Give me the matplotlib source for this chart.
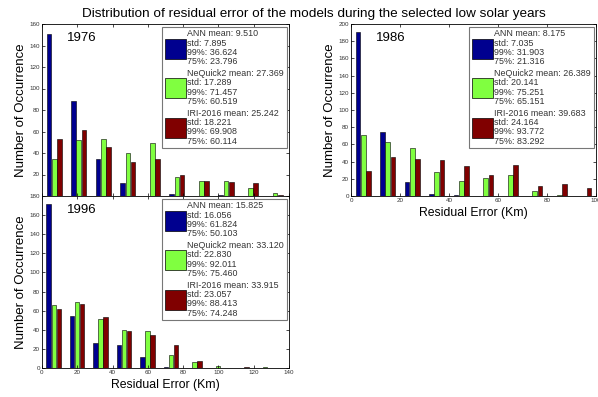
import numpy as np
import matplotlib
matplotlib.use("Agg")
from matplotlib import pyplot as plt
from matplotlib.patches import Patch

plt.rcParams['font.family'] = ['Liberation Sans', 'DejaVu Sans']

models = ["ANN", "NeQuick2", "IRI-2016"]
colors = ["#00008F", "#80FF40", "#800000"]

# 1976 (bin width ~13.9 km)
w76 = 13.9
ann76 = [151, 88, 34.6, 11.7, 0, 1.9, 0, 0.8, 0, 0]
neq76 = [34.6, 52, 53, 40, 49.6, 18, 14.2, 14.2, 7.1, 2.8]
iri76 = [53, 61, 45.7, 31.8, 34.5, 20, 14.2, 12.7, 11.7, 0.8]
stats76 = [["9.510", "7.895", "36.624", "23.796"],
           ["27.369", "17.289", "71.457", "60.519"],
           ["25.242", "18.221", "69.908", "60.114"]]

# 1986 (bin width 10 km)
w86 = 10.0
ann86 = [191, 74, 16, 2.7, 1, 0, 0, 0, 0, 0]
neq86 = [71.4, 63, 56, 28, 18, 21, 24, 5.8, 1.5, 0]
iri86 = [29, 45, 43.6, 41.3, 35, 24, 36, 12, 13.5, 9.6]
stats86 = [["8.175", "7.035", "31.903", "21.316"],
           ["26.389", "20.141", "75.251", "65.151"],
           ["39.683", "24.164", "93.772", "83.292"]]

# 1996 (bin width ~13.3 km)
w96 = 13.3
ann96 = [172, 54, 26, 24.5, 11.5, 1.4, 0, 0, 0, 0]
neq96 = [66.4, 69, 51, 40, 39, 14, 6, 2, 0, 1.4]
iri96 = [62, 67, 53, 39, 35, 24.5, 7, 0, 1.4, 0]
stats96 = [["15.825", "16.056", "61.824", "50.103"],
           ["33.120", "22.830", "92.011", "75.460"],
           ["33.915", "23.057", "88.413", "74.248"]]

W, H = 598, 397
fig = plt.figure(figsize=(W / 100, H / 100), dpi=100)


def make_ax(left, top, right, bottom):
    return fig.add_axes([left / W, 1 - bottom / H, (right - left) / W, (bottom - top) / H])


def panel(ax, width, series, stats, year, xmax, ymax, xlabel=True):
    centers = width * (np.arange(len(series[0])) + 0.5)
    offs = [-0.215, 0, 0.215]
    for vals, off, c in zip(series, offs, colors):
        ax.bar(centers + off * width, vals, width=0.19 * width, color=c,
               edgecolor="black", linewidth=0.4)
    ax.set_xlim(0, xmax)
    ax.set_ylim(0, ymax)
    ax.set_xticks(np.arange(0, xmax + 1, 20))
    ax.set_yticks(np.arange(0, ymax + 1, 20))
    ax.tick_params(direction="in", top=True, right=True, labelsize=4.5,
                   length=2.5, width=0.5, labelcolor="#333333", pad=1.5)
    for s in ax.spines.values():
        s.set_linewidth(0.6)
    ax.set_ylabel("Number of Occurrence", fontsize=9.5, labelpad=2)
    if xlabel:
        ax.set_xlabel("Residual Error (Km)", fontsize=8.8, labelpad=3)
    ax.text(0.1, 0.92, year, transform=ax.transAxes, fontsize=9.5, va="center")
    handles = [Patch(facecolor=c, edgecolor="black", linewidth=0.5) for c in colors]
    labels = ["%s mean: %s\nstd: %s\n99%%: %s\n75%%: %s" % (m, s[0], s[1], s[2], s[3])
              for m, s in zip(models, stats)]
    leg = ax.legend(handles, labels, loc="upper right", bbox_to_anchor=(0.99, 0.985),
                    fontsize=6.4, handlelength=2.4, handleheight=3.1, handletextpad=0.1,
                    labelspacing=0.3, borderpad=0.3, borderaxespad=0, fancybox=False,
                    framealpha=1, edgecolor="#777777")
    leg.get_frame().set_linewidth(0.8)
    for t in leg.get_texts():
        t.set_color("#333333")
        t.set_linespacing(1.05)


ax1 = make_ax(42, 24, 289, 196)
panel(ax1, w76, [ann76, neq76, iri76], stats76, "1976", 140, 160, xlabel=False)
ax1.tick_params(labelbottom=False)
ax1.set_yticks(np.arange(20, 161, 20))

ax2 = make_ax(351, 24, 596, 196)
panel(ax2, w86, [ann86, neq86, iri86], stats86, "1986", 100, 200)

ax3 = make_ax(42, 196, 289, 368)
panel(ax3, w96, [ann96, neq96, iri96], stats96, "1996", 140, 180)

fig.text(314 / W, 1 - 14 / H, "Distribution of residual error of the models during the selected low solar years",
         ha="center", va="center", fontsize=9.7)

fig.savefig("out.png", dpi=100)
